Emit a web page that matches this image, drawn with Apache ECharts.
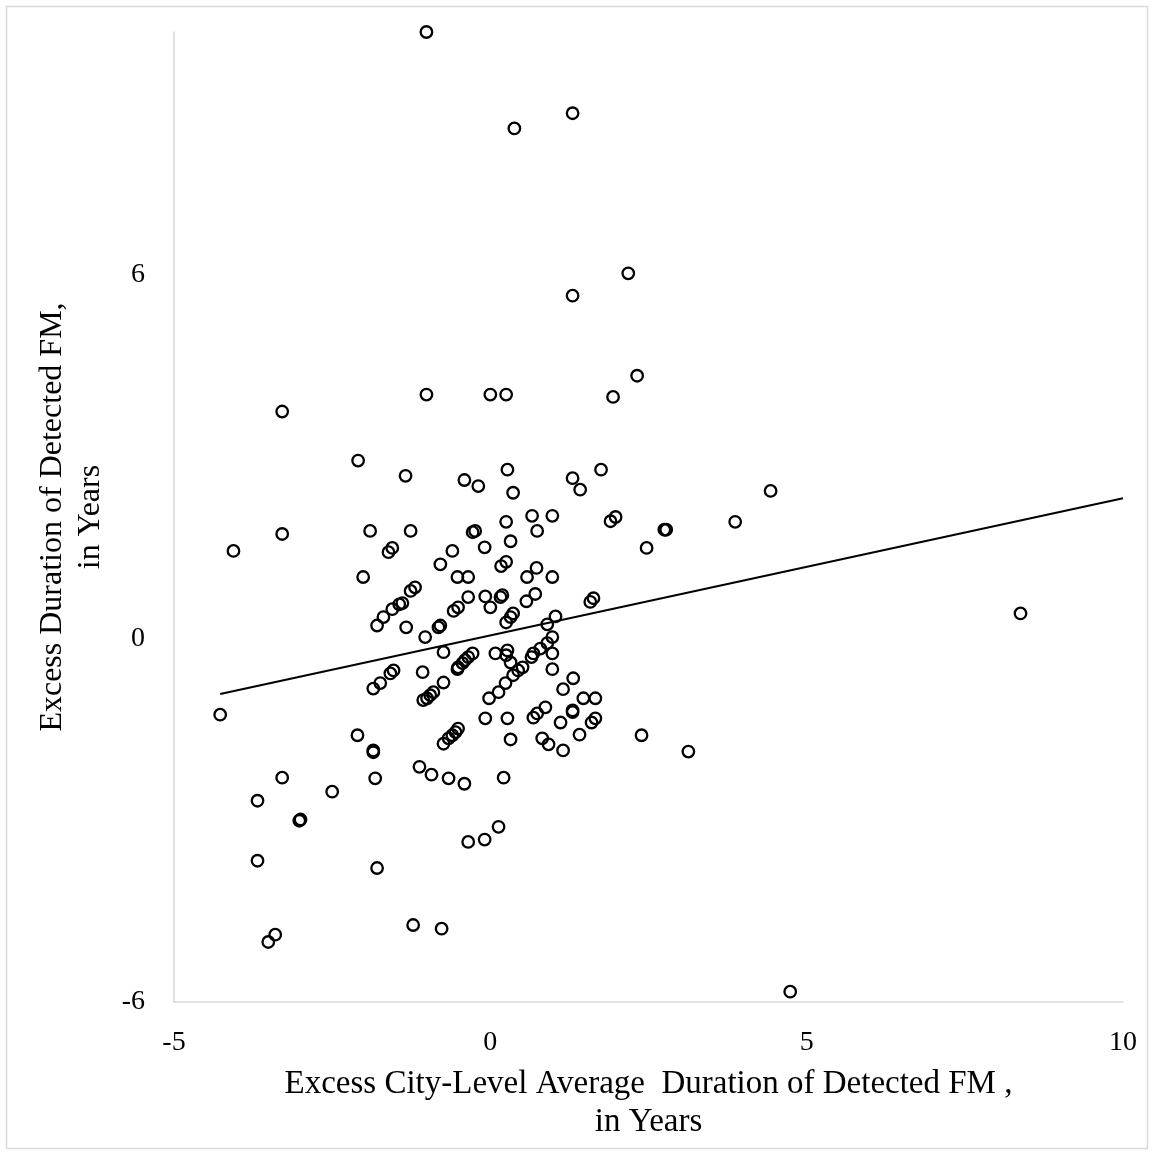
<!DOCTYPE html>
<html>
<head>
<meta charset="utf-8">
<script src="https://cdn.jsdelivr.net/npm/echarts@6/dist/echarts.min.js"></script>
<style>
html,body{margin:0;padding:0;background:#fff;}
#chart{width:1153px;height:1155px;}
</style>
</head>
<body>
<div id="chart"></div>
<script>
// Scatter observations (x: excess city-level avg duration, y: excess duration)
var xValues = [
-1.01,1.30,0.38,2.18,1.30,2.32,-1.01,0.00,0.25,1.94,
-3.29,-2.09,0.27,1.75,-1.34,1.30,-0.41,-0.19,1.42,4.43,
0.36,0.66,0.98,1.98,0.25,1.90,3.87,-1.90,-1.26,-3.29,
-0.28,-0.24,0.74,2.75,2.78,0.32,-4.06,-1.61,-1.55,-0.60,
-0.09,2.47,-0.79,0.17,0.25,0.73,-2.01,-0.52,-0.35,0.58,
0.98,-1.19,-1.26,-0.35,-0.08,0.16,0.19,0.71,0.57,1.63,
1.58,-1.39,-1.44,-1.55,-1.69,-1.79,0.00,-0.51,-0.58,8.38,
0.36,0.32,0.25,1.03,0.90,-1.33,-0.79,-0.82,-1.03,0.98,
0.90,0.79,0.68,0.65,0.98,0.27,0.25,0.32,0.08,-0.74,
-0.28,-0.35,-0.40,-0.44,-0.51,-0.52,-1.07,-1.58,-1.53,0.51,
0.44,0.36,0.98,1.31,0.24,-0.74,-1.74,-1.85,1.15,-0.90,
-0.95,-1.00,-1.06,0.13,-0.02,1.47,1.66,0.87,0.74,0.68,
1.30,1.30,-4.27,-0.08,0.27,1.11,1.66,1.60,-0.51,-0.55,
-0.60,-0.66,-0.74,1.41,-2.10,2.39,0.32,0.82,0.92,1.15,
-1.85,-1.85,3.13,-1.12,-0.93,-0.66,-0.41,0.21,-3.29,-1.82,
-3.68,-2.50,-3.02,-3.00,0.13,-0.35,-0.09,-3.68,-1.79,-1.22,
-0.77,-3.40,-3.51,4.74
];
var yValues = [
10.00,8.66,8.41,6.02,5.65,4.33,4.02,4.02,4.02,3.98,
3.74,2.93,2.78,2.78,2.68,2.64,2.61,2.51,2.45,2.43,
2.40,2.02,2.02,2.00,1.92,1.93,1.92,1.77,1.77,1.72,
1.75,1.77,1.77,1.79,1.79,1.60,1.44,1.42,1.49,1.44,
1.50,1.49,1.22,1.19,1.26,1.16,1.01,1.01,1.01,1.01,
1.01,0.84,0.78,0.68,0.69,0.68,0.71,0.73,0.61,0.66,
0.60,0.58,0.56,0.48,0.35,0.21,0.51,0.51,0.45,0.41,
0.41,0.35,0.26,0.36,0.23,0.18,0.21,0.18,0.02,0.02,
-0.08,-0.17,-0.25,-0.31,-0.25,-0.20,-0.28,-0.40,-0.25,-0.23,
-0.25,-0.31,-0.36,-0.41,-0.48,-0.51,-0.56,-0.58,-0.53,-0.48,
-0.53,-0.61,-0.51,-0.66,-0.74,-0.73,-0.74,-0.83,-0.84,-0.89,
-0.94,-0.99,-1.02,-0.89,-0.99,-0.99,-0.99,-1.14,-1.24,-1.31,
-1.19,-1.22,-1.26,-1.32,-1.32,-1.39,-1.32,-1.39,-1.49,-1.55,
-1.60,-1.65,-1.74,-1.59,-1.60,-1.60,-1.67,-1.65,-1.75,-1.85,
-1.85,-1.88,-1.87,-2.12,-2.25,-2.31,-2.40,-2.30,-2.30,-2.31,
-2.68,-2.53,-3.01,-2.99,-3.11,-3.36,-3.32,-3.67,-3.79,-4.73,
-4.79,-4.89,-5.01,-5.83
];
// Fitted trend line endpoints
var trendX = [-4.27, 10];
var trendY = [-0.92, 2.31];
// Axis ticks
var xTicks = [-5, 0, 5, 10];
var yTicks = [-6, 0, 6];

var xName = 'Excess City-Level Average  Duration of Detected FM ,\nin Years';
var yName = 'Excess Duration of Detected FM,\nin Years';

var points = xValues.map(function (x, i) { return [x, yValues[i]]; });
var trend = trendX.map(function (x, i) { return [x, trendY[i]]; });

var font = '"Liberation Serif", "Times New Roman", serif';
var chart = echarts.init(document.getElementById('chart'), null, {renderer: 'canvas'});
chart.setOption({
  backgroundColor: '#fff',
  animation: false,
  graphic: [{
    type: 'rect',
    shape: {x: 6.5, y: 6.5, width: 1141, height: 1142},
    style: {fill: 'none', stroke: '#d9d9d9', lineWidth: 1.5},
    silent: true
  }],
  grid: {left: 174, right: 30, top: 32, bottom: 153, containLabel: false},
  xAxis: {
    type: 'value',
    min: xTicks[0], max: xTicks[xTicks.length - 1], interval: 5,
    splitLine: {show: false},
    axisTick: {show: false},
    axisLine: {show: true, onZero: false, lineStyle: {color: '#d9d9d9', width: 1.5}},
    axisLabel: {
      margin: 27, color: '#000', fontFamily: font, fontSize: 28,
      formatter: function (v) { return xTicks.indexOf(v) >= 0 ? String(v) : ''; }
    },
    name: xName, nameLocation: 'middle', nameGap: 63,
    nameTextStyle: {color: '#000', fontFamily: font, fontSize: 33, lineHeight: 38}
  },
  yAxis: {
    type: 'value',
    min: -6, max: 10, interval: 6,
    splitLine: {show: false},
    axisTick: {show: false},
    axisLine: {show: true, onZero: false, lineStyle: {color: '#d9d9d9', width: 1.5}},
    axisLabel: {
      margin: 29, color: '#000', fontFamily: font, fontSize: 28,
      formatter: function (v) { return yTicks.indexOf(v) >= 0 ? String(v) : ''; }
    },
    name: yName, nameLocation: 'middle', nameGap: 64, nameRotate: 90,
    nameTextStyle: {color: '#000', fontFamily: font, fontSize: 32, lineHeight: 38}
  },
  series: [{
    type: 'scatter',
    data: points,
    symbol: 'circle',
    symbolSize: 11.5,
    clip: false,
    itemStyle: {color: 'rgba(0,0,0,0)', borderColor: '#000', borderWidth: 2.3, opacity: 1},
    z: 3
  }, {
    type: 'line',
    data: trend,
    symbol: 'none',
    lineStyle: {color: '#000', width: 2},
    z: 2
  }]
});
</script>
</body>
</html>
